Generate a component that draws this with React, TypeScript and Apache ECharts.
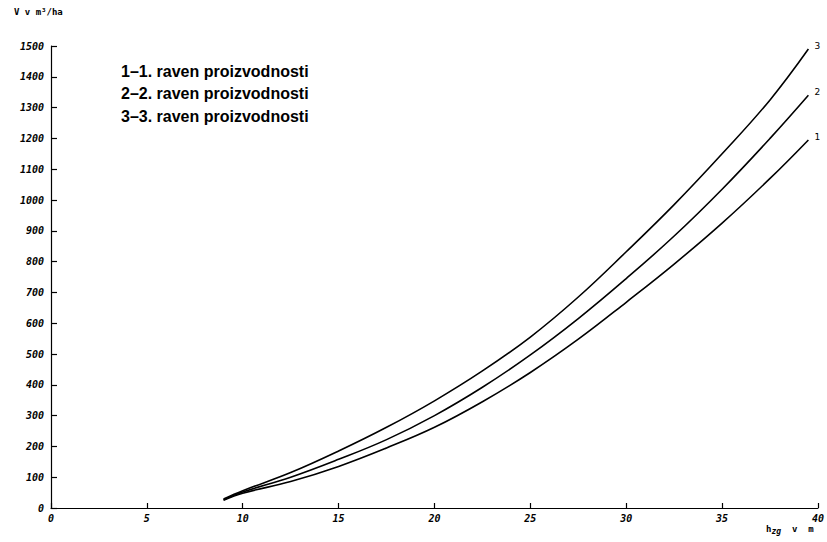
import React, { useEffect, useRef } from "react";
import * as echarts from "echarts";

const xValues = [9, 10, 12.5, 15, 17.5, 20, 22.5, 25, 27.5, 30, 32.5, 35, 37.5, 39.5];
const curve1 = [25, 48, 86, 135, 195, 262, 345, 440, 548, 668, 792, 925, 1070, 1195];
const curve2 = [27, 52, 100, 158, 222, 300, 392, 497, 615, 745, 883, 1035, 1200, 1340];
const curve3 = [29, 56, 115, 185, 262, 348, 445, 555, 685, 832, 985, 1150, 1325, 1490];
const seriesEndLabels = ["1", "2", "3"];
const legendLines = [
  "1\u20131. raven proizvodnosti",
  "2\u20132. raven proizvodnosti",
  "3\u20133. raven proizvodnosti",
];
const yAxisTitle = "V v m\u00B3/ha";

export default function App() {
  const ref = useRef<HTMLDivElement>(null);
  useEffect(() => {
    document.body.style.margin = "0";
    if (!ref.current) return;
    const chart = echarts.init(ref.current, null, { renderer: "svg" });
    const tickFont = {
      fontFamily: "DejaVu Sans Mono",
      fontStyle: "italic" as const,
      fontWeight: "bold" as const,
      fontSize: 10,
      color: "#000",
      formatter: (v: number) => String(v),
    };
    const mk = (vals: number[], label: string) => ({
      type: "line",
      data: xValues.map((x, i) => [x, vals[i]]),
      smooth: 0.4,
      symbol: "none",
      lineStyle: { color: "#000", width: 1.6 },
      endLabel: {
        show: true,
        formatter: label,
        distance: 6,
        offset: [0, -3],
        fontSize: 9,
        fontFamily: "DejaVu Sans",
        color: "#000",
      },
    });
    chart.setOption({
      animation: false,
      backgroundColor: "#fff",
      grid: { left: 51, right: 8, top: 46, bottom: 34 },
      xAxis: {
        type: "value",
        min: 0,
        max: 40,
        interval: 5,
        axisLine: { show: true, lineStyle: { color: "#000", width: 1.2 } },
        axisTick: { show: true, inside: true, length: 5, lineStyle: { color: "#000", width: 1.2 } },
        axisLabel: { ...tickFont, margin: 5 },
        splitLine: { show: false },
      },
      yAxis: {
        type: "value",
        min: 0,
        max: 1500,
        interval: 100,
        axisLine: { show: true, lineStyle: { color: "#000", width: 1.2 } },
        axisTick: { show: true, inside: true, length: 6, lineStyle: { color: "#000", width: 1.2 } },
        axisLabel: { ...tickFont, margin: 7 },
        splitLine: { show: false },
      },
      series: [
        mk(curve1, seriesEndLabels[0]),
        mk(curve2, seriesEndLabels[1]),
        mk(curve3, seriesEndLabels[2]),
      ],
      graphic: [
        {
          type: "text",
          left: 14,
          top: 7,
          style: {
            text: yAxisTitle,
            fontFamily: "DejaVu Sans Mono",
            fontWeight: "bold",
            fontSize: 9,
            fill: "#000",
          },
        },
        ...legendLines.map((t, i) => ({
          type: "text",
          left: 121,
          top: 63 + i * 22.5,
          style: {
            text: t,
            fontFamily: "Liberation Sans",
            fontWeight: "bold",
            fontSize: 16,
            fill: "#000",
          },
        })),
        {
          type: "text",
          left: 766,
          top: 524,
          style: {
            text: "{a|h}{b|zg}{a|  v  m}",
            rich: {
              a: { fontFamily: "DejaVu Sans Mono", fontWeight: "bold", fontSize: 9, fill: "#000" },
              b: {
                fontFamily: "DejaVu Sans Mono",
                fontWeight: "bold",
                fontStyle: "italic",
                fontSize: 8,
                fill: "#000",
                verticalAlign: "bottom",
                padding: [6, 0, 0, 0],
              },
            },
          },
        },
      ],
    });
    return () => chart.dispose();
  }, []);
  return <div ref={ref} style={{ width: 827, height: 542 }} />;
}
